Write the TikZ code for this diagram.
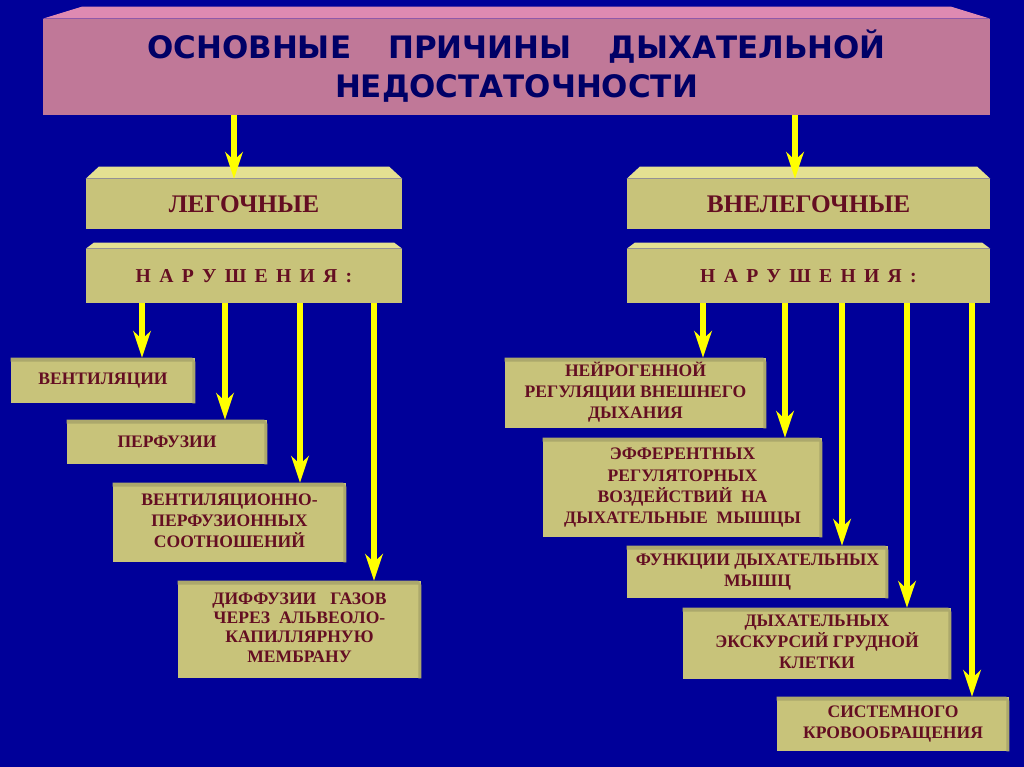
\documentclass[tikz,border=0pt]{standalone}
\usepackage{fontspec}
\setmainfont{Liberation Serif}
\newfontfamily\headfont{DejaVu Sans}
\usetikzlibrary{arrows.meta}

\definecolor{bgblue}{RGB}{0,0,153}
\definecolor{pinkbody}{RGB}{192,120,152}
\definecolor{pinktop}{RGB}{222,138,178}
\definecolor{navytext}{RGB}{0,0,102}
\definecolor{khaki}{RGB}{200,195,122}
\definecolor{khakitop}{RGB}{228,224,146}
\definecolor{khakiside}{RGB}{172,168,108}
\definecolor{maroon}{RGB}{100,14,34}
\definecolor{arrowyellow}{RGB}{255,255,0}

\tikzset{
  boxdim/.style 2 args={minimum width=#1*0.025cm, minimum height=#2*0.025cm},
  titlebox/.style={fill=pinkbody, inner sep=0pt, text=navytext,
    font=\headfont\bfseries\fontsize{22}{28}\selectfont},
  kbox/.style={fill=khaki, inner sep=0pt, text=maroon,
    font=\bfseries\fontsize{12.5}{15}\selectfont},
  kbig/.style={kbox, font=\bfseries\fontsize{18}{21}\selectfont},
  ksub/.style={kbox, font=\bfseries\fontsize{14}{16}\selectfont},
  arr/.style={draw=arrowyellow, line width=3.6pt,
    -{Stealth[length=19pt, width=12.5pt, inset=6pt]}}
}

% top face of a box: node, inset, height, colour
\newcommand{\bevel}[4]{%
  \fill[#4] (#1.north west) -- ([shift={(#2,#3)}]#1.north west)
    -- ([shift={(-#2,#3)}]#1.north east) -- (#1.north east) -- cycle;}
% shaded top and right edge of a small box
\newcommand{\edges}[1]{%
  \fill[khakiside] (#1.north west) -- ([xshift=-3*0.025cm]#1.north east)
    -- ([shift={(0,-4)}]#1.north east) -- (#1.south east)
    -- ([xshift=-3*0.025cm]#1.south east) -- ([shift={(-3,-4)}]#1.north east)
    -- ([yshift=-4*0.025cm]#1.north west) -- cycle;}
\newcommand{\gap}{\hspace{0.42em}}
\newcommand{\lines}[1]{\begin{tabular}{@{}c@{}}#1\end{tabular}}

\begin{document}
\begin{tikzpicture}[x=0.025cm, y=0.025cm]
  \fill[bgblue] (0,0) rectangle (1024,-767);
  \useasboundingbox (0,0) rectangle (1024,-767);

  % title
  \node[titlebox, boxdim={947}{96}] (title) at (516.5,-67)
    {\lines{\rule{0pt}{24pt}ОСНОВНЫЕ\hspace{1.2em}ПРИЧИНЫ\hspace{1.2em}ДЫХАТЕЛЬНОЙ\\НЕДОСТАТОЧНОСТИ}};
  \bevel{title}{39}{12}{pinktop}

  % two groups
  \node[kbig, boxdim={316}{50}] (leg) at (244,-204) {ЛЕГОЧНЫЕ};
  \bevel{leg}{13}{12}{khakitop}
  \node[kbig, boxdim={363}{50}] (vneleg) at (808.5,-204) {ВНЕЛЕГОЧНЫЕ};
  \bevel{vneleg}{13}{12}{khakitop}

  \node[ksub, boxdim={316}{54}] (narL) at (244,-276)
    {Н\gap А\gap Р\gap У\gap Ш\gap Е\gap Н\gap И\gap Я\gap :};
  \bevel{narL}{8}{6}{khakitop}
  \node[ksub, boxdim={363}{54}] (narR) at (808.5,-276)
    {Н\gap А\gap Р\gap У\gap Ш\gap Е\gap Н\gap И\gap Я\gap :};
  \bevel{narR}{8}{6}{khakitop}

  % left column
  \node[kbox, boxdim={184}{45}] (vent) at (103,-380.5) {ВЕНТИЛЯЦИИ};
  \node[kbox, boxdim={200}{44}] (perf) at (167,-442) {ПЕРФУЗИИ};
  \node[kbox, boxdim={233}{79}] (ventperf) at (229.5,-522.5)
    {\lines{ВЕНТИЛЯЦИОННО-\\ПЕРФУЗИОННЫХ\\СООТНОШЕНИЙ}};
  \node[kbox, boxdim={243}{97}, font=\bfseries\fontsize{12.5}{13.6}\selectfont]
    (diff) at (299.5,-629.5)
    {\lines{ДИФФУЗИИ\hspace{0.8em}ГАЗОВ\\ЧЕРЕЗ\hspace{0.5em}АЛЬВЕОЛО-\\КАПИЛЛЯРНУЮ\\МЕМБРАНУ}};

  % right column
  \node[kbox, boxdim={261}{70}] (neiro) at (635.5,-393)
    {\lines{НЕЙРОГЕННОЙ\\РЕГУЛЯЦИИ ВНЕШНЕГО\\ДЫХАНИЯ}};
  \node[kbox, boxdim={279}{99}] (eff) at (682.5,-487.5)
    {\lines{ЭФФЕРЕНТНЫХ\\РЕГУЛЯТОРНЫХ\\ВОЗДЕЙСТВИЙ\hspace{0.5em}НА\\ДЫХАТЕЛЬНЫЕ\hspace{0.5em}МЫШЦЫ}};
  \node[kbox, boxdim={261}{52}] (func) at (757.5,-572)
    {\lines{ФУНКЦИИ ДЫХАТЕЛЬНЫХ\\МЫШЦ}};
  \node[kbox, boxdim={268}{71}] (exc) at (817,-643.5)
    {\lines{ДЫХАТЕЛЬНЫХ\\ЭКСКУРСИЙ ГРУДНОЙ\\КЛЕТКИ}};
  \node[kbox, boxdim={232}{54}] (sist) at (893,-724)
    {\lines{СИСТЕМНОГО\\КРОВООБРАЩЕНИЯ}};

  \foreach \b in {vent,perf,ventperf,diff,neiro,eff,func,exc,sist}
    \edges{\b};

  % arrows
  \coordinate (xl) at (234,0);
  \coordinate (xr) at (795,0);
  \draw[arr] (title.south -| xl) -- (leg.north -| xl);
  \draw[arr] (title.south -| xr) -- (vneleg.north -| xr);
  \foreach \x/\t in {142/vent, 225/perf, 300/ventperf, 374/diff} {
    \coordinate (xa) at (\x,0);
    \draw[arr] (narL.south -| xa) -- (\t.north -| xa);
  }
  \foreach \x/\t in {703/neiro, 785/eff, 842/func, 907/exc, 972/sist} {
    \coordinate (xa) at (\x,0);
    \draw[arr] (narR.south -| xa) -- (\t.north -| xa);
  }
\end{tikzpicture}
\end{document}
